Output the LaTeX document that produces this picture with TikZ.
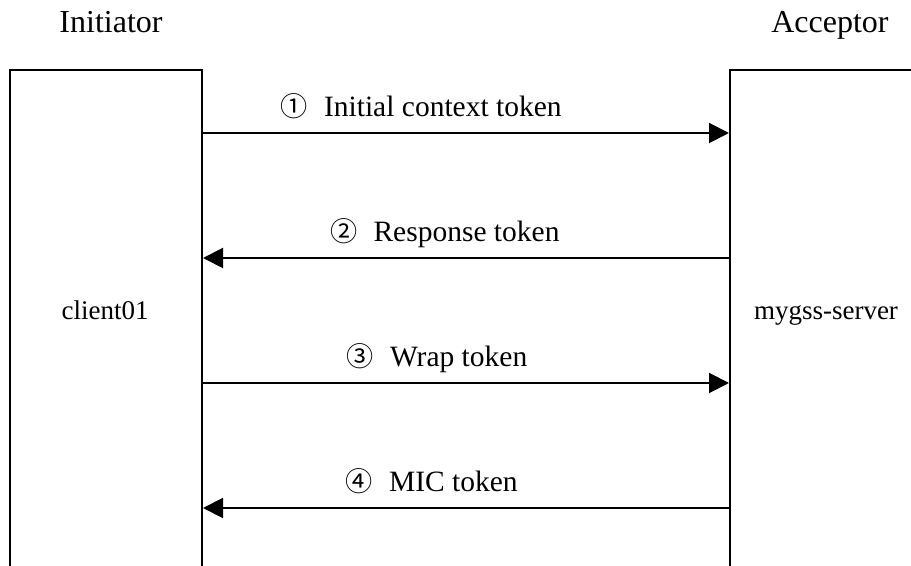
\documentclass[tikz,border=0pt]{standalone}
\usepackage{fontspec}
\setmainfont{Liberation Serif}
\newfontfamily\circfont[Scale=0.92]{Noto Sans CJK JP}
\usetikzlibrary{arrows.meta}

\begin{document}
\begin{tikzpicture}[x=0.5pt, y=-0.5pt,
    lifebox/.style={draw, line width=1pt, minimum width=#1, minimum height=275pt, inner sep=0pt},
    tosrv/.style={line width=1pt, -{Triangle[length=10pt, width=10pt]}},
    tocli/.style={line width=1pt, {Triangle[length=10pt, width=10pt]}-},
    msglabel/.style={anchor=base, yshift=8pt, inner sep=0pt, font=\fontsize{14.75}{17}\selectfont},
    role/.style={anchor=base, inner sep=0pt, font=\fontsize{16}{19}\selectfont},
    host/.style={anchor=base, inner sep=0pt, font=\fontsize{13.5}{16}\selectfont}]

    % 描画範囲
    \useasboundingbox (0,0) rectangle (911,566);
    \clip (0,0) rectangle (911,566);

    % 役割
    \node[role] (initiator) at (111,33) {Initiator};
    \node[role] (acceptor) at (830,33) {Acceptor};

    % 箱 (下端は切れている)
    \node[lifebox=96pt] (client) at (106,345) {};
    \node[lifebox=150pt] (server) at (880,345) {};
    \node[host] (clientname) at (105,320) {client01};
    \node[host] (servername) at (826,320) {mygss-server};

    % メッセージの高さ
    \coordinate (y1) at (0,133);
    \coordinate (y2) at (0,258);
    \coordinate (y3) at (0,383);
    \coordinate (y4) at (0,508);

    % メッセージ
    \draw[tosrv] (client.east |- y1) -- (server.west |- y1)
        node[msglabel, pos=0.415] (msg1) {{\circfont ①}\hspace{8pt}Initial context token};
    \draw[tocli] (client.east |- y2) -- (server.west |- y2)
        node[msglabel, pos=0.46] (msg2) {{\circfont ②}\hspace{8pt}Response token};
    \draw[tosrv] (client.east |- y3) -- (server.west |- y3)
        node[msglabel, pos=0.445] (msg3) {{\circfont ③}\hspace{8pt}Wrap token};
    \draw[tocli] (client.east |- y4) -- (server.west |- y4)
        node[msglabel, pos=0.435] (msg4) {{\circfont ④}\hspace{8pt}MIC token};

\end{tikzpicture}
\end{document}
